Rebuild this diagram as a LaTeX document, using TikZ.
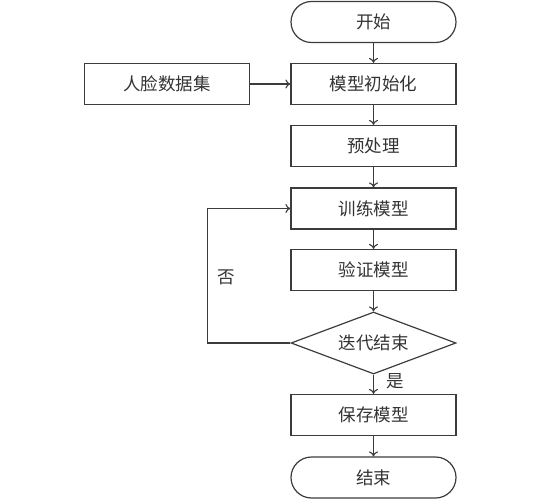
\documentclass[tikz,border=0pt]{standalone}
\usepackage{fontspec}
\setmainfont{Noto Sans CJK SC}
\usetikzlibrary{shapes.geometric,arrows.meta}
\definecolor{ln}{HTML}{3C3C3C}
\definecolor{tx}{HTML}{333333}
\begin{document}
\begin{tikzpicture}[x=1pt,y=1pt,
  box/.style={draw=ln,line width=1.2pt,minimum width=165pt,minimum height=41pt,inner sep=0pt,font=\fontsize{17.5}{19}\selectfont,text=tx},
  term/.style={box,rounded corners=20.5pt},
  dec/.style={draw=ln,line width=1.2pt,diamond,aspect=2.66,minimum width=165pt,minimum height=62pt,inner sep=0pt,font=\fontsize{17.5}{19}\selectfont,text=tx},
  conn/.style={draw=ln,line width=1.1pt,-{To[length=5pt,width=9pt]}},
  lab/.style={font=\fontsize{17.5}{19}\selectfont,text=tx,inner sep=0pt}]
\useasboundingbox (0,0) rectangle (541,-500);
\node[term] (start) at (373.5,-22) {开始};
\node[box] (init) at (373.5,-84) {模型初始化};
\node[box] (face) at (167,-84) {人脸数据集};
\node[box] (pre) at (373.5,-146) {预处理};
\node[box] (train) at (373.5,-208.5) {训练模型};
\node[box] (verify) at (373.5,-270) {验证模型};
\node[dec] (dec) at (373.5,-343) {迭代结束};
\node[box] (save) at (373.5,-415) {保存模型};
\node[term] (end) at (373.5,-477.5) {结束};
\coordinate (lp) at (207.5,-343);
\draw[conn] (start) -- (init);
\draw[conn] (face) -- (init);
\draw[conn] (init) -- (pre);
\draw[conn] (pre) -- (train);
\draw[conn] (train) -- (verify);
\draw[conn] (verify) -- (dec);
\draw[conn] (dec) -- (save);
\draw[conn] (save) -- (end);
\draw[conn] (dec.west) -- (lp) |- (train.west);
\node[lab] (yes) at (395,-381) {是};
\node[lab] (no) at (226,-277) {否};
\end{tikzpicture}
\end{document}
